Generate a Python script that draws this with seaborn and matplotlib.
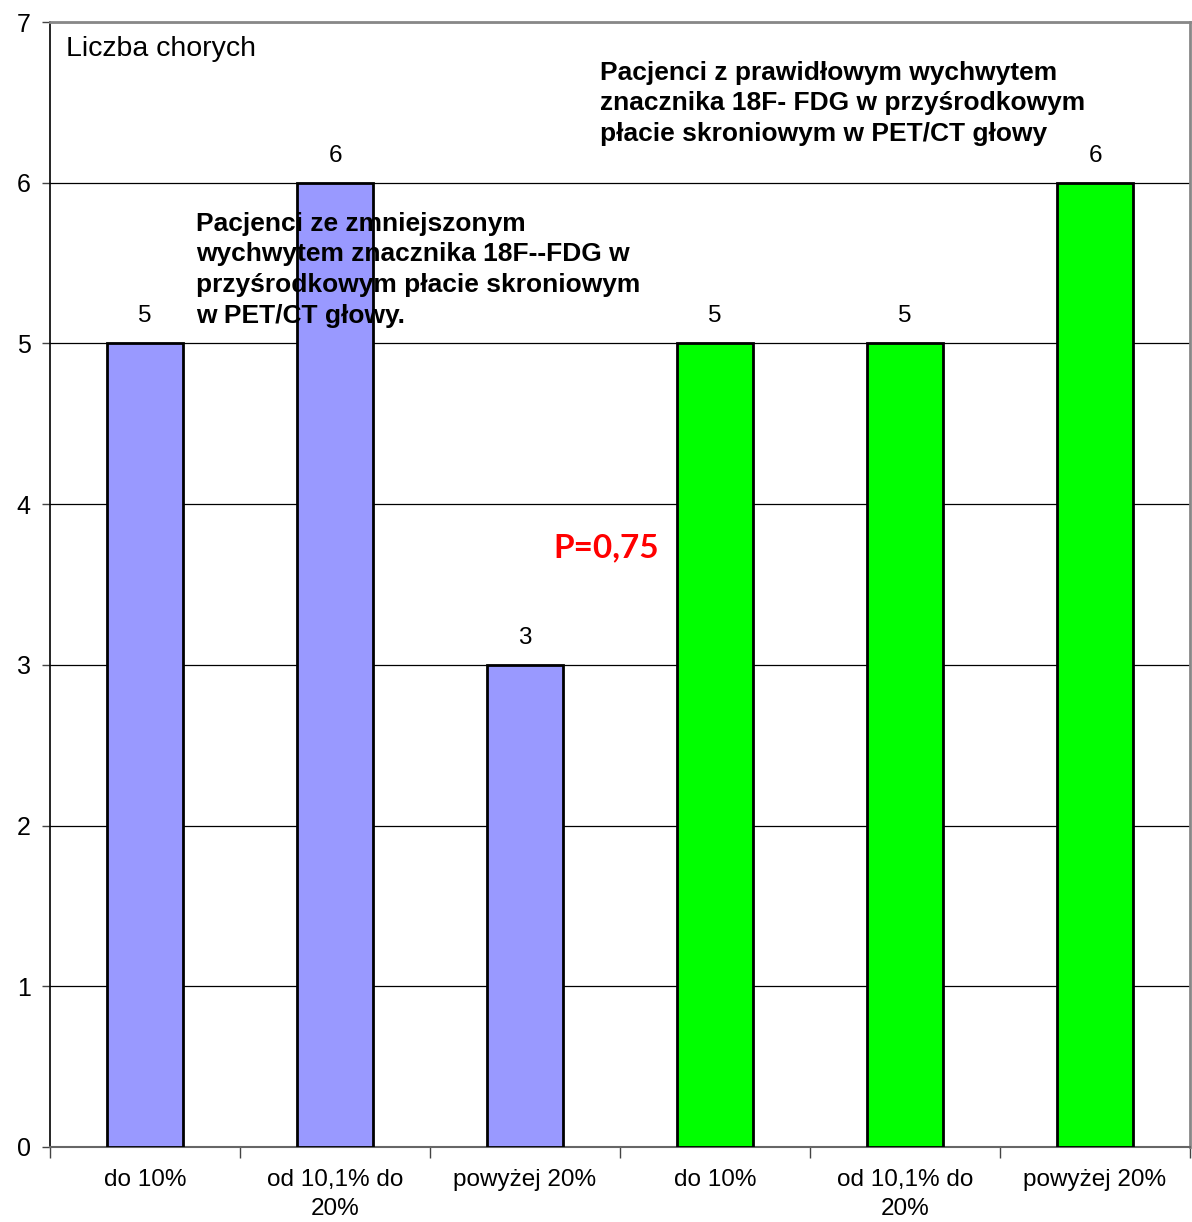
import matplotlib
matplotlib.use("Agg")
import matplotlib.pyplot as plt
import seaborn as sns
import pandas as pd
import numpy as np

# Data: number of patients per SUV-change class in two patient groups
categories = ["do 10%", "od 10,1% do\n20%", "powyżej 20%",
              "do 10%", "od 10,1% do\n20%", "powyżej 20%"]
groups = ["zmniejszony", "zmniejszony", "zmniejszony",
          "prawidłowy", "prawidłowy", "prawidłowy"]
values = [5, 6, 3, 5, 5, 6]

group_colors = {"zmniejszony": "#9999FF", "prawidłowy": "#00FF00"}

sns.set_theme(style="white")
plt.rcParams["font.family"] = ["Liberation Sans", "DejaVu Sans"]
plt.rcParams["text.color"] = "black"
plt.rcParams["xtick.labelcolor"] = "black"
plt.rcParams["ytick.labelcolor"] = "black"

df = pd.DataFrame({
    "pos": [str(i) for i in range(len(values))],
    "value": values,
    "group": groups,
})

fig = plt.figure(figsize=(11.92, 12.22), dpi=100)
ax = fig.add_axes([50 / 1192, 75 / 1222, 1140 / 1192, 1125 / 1222])

sns.barplot(data=df, x="pos", y="value", hue="group", palette=group_colors,
            dodge=False, width=0.4, edgecolor="black", linewidth=2,
            saturation=1, legend=False, ax=ax, zorder=3)

ax.set_xlim(-0.5, len(values) - 0.5)
ax.set_ylim(0, 7)
ax.set_xlabel("")
ax.set_ylabel("")

# Horizontal gridlines
ax.set_yticks(range(0, 8))
ax.yaxis.grid(True, color="black", linewidth=0.9, zorder=0)
ax.xaxis.grid(False)

# Category boundaries carry the tick marks; labels sit at bar centres
ax.set_xticks(np.arange(-0.5, len(values)), minor=False)
ax.set_xticklabels([""] * (len(values) + 1))
ax.set_xticks(np.arange(len(values)), minor=True)
ax.set_xticklabels(categories, minor=True, fontsize=17.5, linespacing=1.4,
                   color="black")
ax.tick_params(axis="x", which="major", length=8, width=1, color="#444444",
               direction="out", bottom=True)
ax.tick_params(axis="x", which="minor", length=0, pad=16)
ax.tick_params(axis="y", which="major", length=6, width=1, color="#444444",
               direction="out", left=True, labelsize=18, pad=8,
               labelcolor="black")

for side in ["top", "right"]:
    ax.spines[side].set_color("#888888")
    ax.spines[side].set_linewidth(2)
ax.spines["left"].set_color("black")
ax.spines["left"].set_linewidth(1.2)
ax.spines["bottom"].set_color("#666666")
ax.spines["bottom"].set_linewidth(1.5)

# Value labels above bars
for i, v in enumerate(values):
    ax.text(i, v + 0.1, str(v), ha="center", va="bottom", fontsize=17.5,
            color="black", zorder=5)

ax.text(0.014, 0.988, "Liczba chorych", transform=ax.transAxes,
        ha="left", va="top", fontsize=20.5, color="black", zorder=5)

ax.text(0.268, 5.82,
        "Pacjenci ze zmniejszonym\nwychwytem znacznika 18F--FDG w\n"
        "przyśrodkowym płacie skroniowym\nw PET/CT głowy.",
        ha="left", va="top", fontsize=19, fontweight="bold", color="black",
        linespacing=1.36, zorder=5)

ax.text(2.395, 6.76,
        "Pacjenci z prawidłowym wychwytem\nznacznika 18F- FDG w przyśrodkowym\n"
        "płacie skroniowym w PET/CT głowy",
        ha="left", va="top", fontsize=19, fontweight="bold", color="black",
        linespacing=1.36, zorder=5)

ax.text(2.426, 3.73, "P=0,75", ha="center", va="center", color="#FF0000",
        fontsize=24, fontweight="bold", family=["Lato", "DejaVu Sans"], zorder=5)

fig.savefig("out.png", dpi=100, facecolor="white")
